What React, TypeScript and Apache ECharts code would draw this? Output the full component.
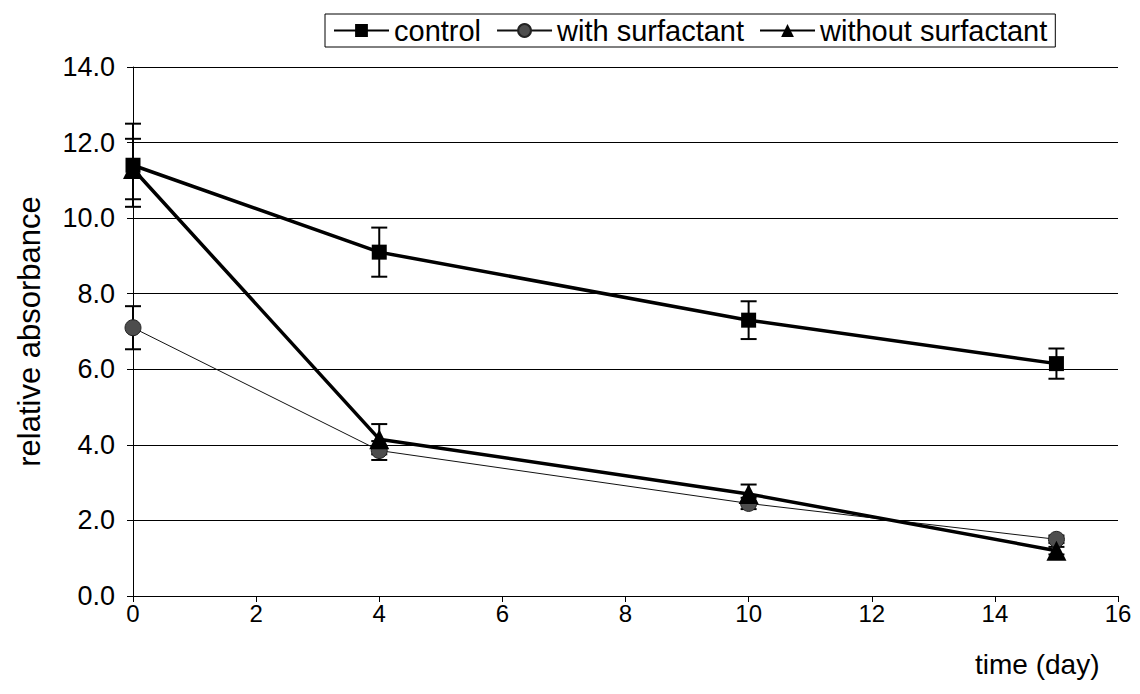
import React, { useEffect, useRef } from "react";
import * as echarts from "echarts";

const days = [0, 4, 10, 15];
const xTicks = [0, 2, 4, 6, 8, 10, 12, 14, 16];
const yTicks = [0, 2, 4, 6, 8, 10, 12, 14];

const controlValues = [11.4, 9.1, 7.3, 6.15];
const controlErrors = [1.1, 0.65, 0.5, 0.4];

const withValues = [7.1, 3.85, 2.45, 1.5];
const withErrors = [0.57, 0.25, 0.15, 0.1];

const withoutValues = [11.3, 4.15, 2.7, 1.2];
const withoutErrors = [0.8, 0.4, 0.25, 0.1];

const seriesNames = ["control", "with surfactant", "without surfactant"];

const FONT = "Liberation Sans, Arial, sans-serif";

function pairs(values: number[]) {
  return days.map((d, i) => [d, values[i]]);
}
function errorData(values: number[], errs: number[]) {
  return days.map((d, i) => [d, values[i] - errs[i], values[i] + errs[i]]);
}

function errorRender(params: any, api: any) {
  const x = api.value(0);
  const lo = api.coord([x, api.value(1)]);
  const hi = api.coord([x, api.value(2)]);
  const half = 8;
  const style = { stroke: "#000", lineWidth: 2 };
  return {
    type: "group",
    children: [
      { type: "line", shape: { x1: lo[0], y1: lo[1], x2: hi[0], y2: hi[1] }, style },
      { type: "line", shape: { x1: lo[0] - half, y1: lo[1], x2: lo[0] + half, y2: lo[1] }, style },
      { type: "line", shape: { x1: hi[0] - half, y1: hi[1], x2: hi[0] + half, y2: hi[1] }, style },
    ],
  };
}

export default function App() {
  const ref = useRef<HTMLDivElement>(null);
  useEffect(() => {
    if (!ref.current) return;
    const chart = echarts.init(ref.current, undefined, { renderer: "svg" });
    chart.setOption({
      animation: false,
      backgroundColor: "#fff",
      textStyle: { fontFamily: FONT, color: "#000" },
      grid: { left: 133, right: 22, top: 67, bottom: 98, containLabel: false },
      legend: {
        data: seriesNames,
        left: 325,
        top: 14,
        padding: [2, 8, 2, 8],
        borderColor: "#000",
        borderWidth: 1,
        itemGap: 15,
        itemWidth: 55,
        itemHeight: 16,
        textStyle: { fontFamily: FONT, fontSize: 29, color: "#000" },
      },
      xAxis: {
        type: "value",
        min: 0,
        max: 16,
        interval: 2,
        axisLine: { show: true, lineStyle: { color: "#000", width: 1 } },
        axisTick: { show: true, length: 6, lineStyle: { color: "#000" } },
        axisLabel: {
          fontSize: 24,
          color: "#000",
          fontFamily: FONT,
          margin: 5,
          customValues: xTicks,
        },
        splitLine: { show: false },
      },
      yAxis: {
        type: "value",
        min: 0,
        max: 14,
        interval: 2,
        name: "relative absorbance",
        nameLocation: "middle",
        nameGap: 88,
        nameTextStyle: { fontSize: 31, color: "#000", fontFamily: FONT },
        axisLine: { show: true, lineStyle: { color: "#000", width: 1 } },
        axisTick: { show: true, length: 6, lineStyle: { color: "#000" } },
        axisLabel: {
          fontSize: 27,
          color: "#000",
          fontFamily: FONT,
          margin: 18,
          formatter: (v: number) => v.toFixed(1),
          customValues: yTicks,
        },
        splitLine: { show: true, lineStyle: { color: "#000", width: 1 } },
      },
      graphic: [
        {
          type: "text",
          left: 975,
          top: 650,
          style: { text: "time (day)", fontSize: 28, fontFamily: FONT, fill: "#000" },
        },
      ],
      series: [
        {
          type: "custom",
          name: "ctrlErr",
          renderItem: errorRender,
          data: errorData(controlValues, controlErrors),
          z: 1,
          silent: true,
          encode: { x: 0, y: [1, 2] },
        },
        {
          type: "custom",
          name: "withErr",
          renderItem: errorRender,
          data: errorData(withValues, withErrors),
          z: 1,
          silent: true,
          encode: { x: 0, y: [1, 2] },
        },
        {
          type: "custom",
          name: "withoutErr",
          renderItem: errorRender,
          data: errorData(withoutValues, withoutErrors),
          z: 1,
          silent: true,
          encode: { x: 0, y: [1, 2] },
        },
        {
          type: "line",
          name: seriesNames[0],
          data: pairs(controlValues),
          symbol: "rect",
          symbolSize: 15,
          lineStyle: { color: "#000", width: 3.5 },
          itemStyle: { color: "#000" },
          z: 3,
        },
        {
          type: "line",
          name: seriesNames[1],
          data: pairs(withValues),
          symbol: "circle",
          symbolSize: 16,
          lineStyle: { color: "#111", width: 1 },
          itemStyle: { color: "#4d4d4d", borderColor: "#222", borderWidth: 1 },
          z: 3,
        },
        {
          type: "line",
          name: seriesNames[2],
          data: pairs(withoutValues),
          symbol: "triangle",
          symbolSize: 20,
          lineStyle: { color: "#000", width: 3.5 },
          itemStyle: { color: "#000" },
          z: 4,
        },
      ],
    });
    return () => chart.dispose();
  }, []);
  return (
    <div
      ref={ref}
      style={{ position: "fixed", left: 0, top: 0, width: 1140, height: 694, background: "#fff" }}
    />
  );
}
